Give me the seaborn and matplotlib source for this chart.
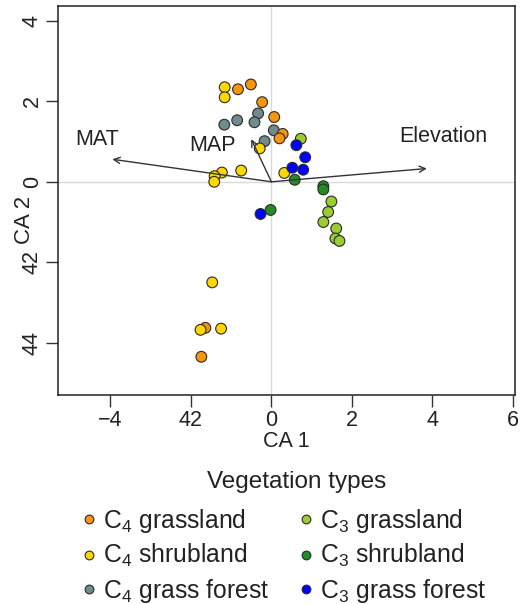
import matplotlib
matplotlib.use("Agg")
import matplotlib.pyplot as plt
import seaborn as sns
import pandas as pd
from matplotlib.lines import Line2D

# ---------------- data ----------------
c4_grassland_x = [-0.83, -0.51, -0.23, 0.07, 0.28, 0.20, -1.64, -1.74]
c4_grassland_y = [2.30, 2.42, 1.98, 1.61, 1.19, 1.08, -3.63, -4.35]

c4_shrubland_x = [-1.16, -1.16, -0.29, 0.32, -1.23, -1.41, -1.42, -0.75, -1.47, -1.76, -1.25]
c4_shrubland_y = [2.35, 2.10, 0.83, 0.22, 0.23, 0.14, 0.00, 0.28, -2.50, -3.68, -3.65]

c4_forest_x = [-0.33, -0.42, -0.85, -1.17, 0.06, -0.17]
c4_forest_y = [1.70, 1.48, 1.53, 1.42, 1.28, 1.01]

c3_grassland_x = [0.73, 1.49, 1.41, 1.29, 1.61, 1.59, 1.69]
c3_grassland_y = [1.07, -0.49, -0.75, -1.00, -1.16, -1.41, -1.47]

c3_shrubland_x = [0.58, 1.29, 1.29, -0.02]
c3_shrubland_y = [0.05, -0.11, -0.19, -0.70]

c3_forest_x = [0.62, 0.84, 0.52, 0.79, -0.27]
c3_forest_y = [0.91, 0.61, 0.35, 0.30, -0.80]

groups = ["C4 grassland", "C4 shrubland", "C4 grass forest",
          "C3 grassland", "C3 shrubland", "C3 grass forest"]
legend_labels = ["C$_4$ grassland", "C$_4$ shrubland", "C$_4$ grass forest",
                 "C$_3$ grassland", "C$_3$ shrubland", "C$_3$ grass forest"]
colors = ["#F7950F", "#FFD700", "#708A8E", "#9ACD32", "#228B22", "#0000FF"]
draw_order = ["C4 grass forest", "C4 grassland", "C4 shrubland",
              "C3 grassland", "C3 shrubland", "C3 grass forest"]

env_names = ["MAT", "MAP", "Elevation"]
env_x = [-3.95, -0.50, 3.86]
env_y = [0.56, 1.06, 0.33]
env_label_x = [-4.32, -1.47, 4.26]
env_label_y = [1.06, 0.89, 1.12]

xticks = [-4, -2, 0, 2, 4, 6]
xticklabels = ["\u22124", "42", "0", "2", "4", "6"]
yticks = [4, 2, 0, -2, -4]
yticklabels = ["4", "2", "0", "42", "44"]

# ---------------- frame ----------------
xs = {"C4 grassland": c4_grassland_x, "C4 shrubland": c4_shrubland_x,
      "C4 grass forest": c4_forest_x, "C3 grassland": c3_grassland_x,
      "C3 shrubland": c3_shrubland_x, "C3 grass forest": c3_forest_x}
ys = {"C4 grassland": c4_grassland_y, "C4 shrubland": c4_shrubland_y,
      "C4 grass forest": c4_forest_y, "C3 grassland": c3_grassland_y,
      "C3 shrubland": c3_shrubland_y, "C3 grass forest": c3_forest_y}
rows = []
for g in draw_order:
    for x, y in zip(xs[g], ys[g]):
        rows.append({"CA1": x, "CA2": y, "type": g})
df = pd.DataFrame(rows)
palette = dict(zip(groups, colors))

# ---------------- style ----------------
sns.set_style("ticks")
plt.rcParams["font.family"] = ["Liberation Sans", "DejaVu Sans"]
plt.rcParams["mathtext.fontset"] = "custom"
plt.rcParams["mathtext.rm"] = "Liberation Sans"
plt.rcParams["mathtext.it"] = "Liberation Sans:italic"
plt.rcParams["mathtext.bf"] = "Liberation Sans:bold"
plt.rcParams["mathtext.default"] = "regular"

fig = plt.figure(figsize=(5.31, 6.04), dpi=100)
ax = fig.add_axes([58 / 531, 1 - 395 / 604, (515 - 58) / 531, (395 - 6) / 604])

ax.axhline(0, color="#D9D9D9", lw=1.0, zorder=0)
ax.axvline(0, color="#D9D9D9", lw=1.0, zorder=0)

sns.scatterplot(data=df, x="CA1", y="CA2", hue="type", palette=palette,
                s=60, edgecolor="#2b2b2b", linewidth=0.8, legend=False,
                ax=ax, zorder=3)

for name, x, y, lx, ly in zip(env_names, env_x, env_y, env_label_x, env_label_y):
    ax.annotate("", xy=(x, y), xytext=(0, 0),
                arrowprops=dict(arrowstyle="->", color="#333333", lw=1.0,
                                shrinkA=0, shrinkB=0, mutation_scale=11),
                zorder=4)
    ax.text(lx, ly, name, ha="center", va="center", fontsize=15.5,
            color="#222222", zorder=5)

ax.set_xlim(-5.3, 6.05)
ax.set_ylim(-5.3, 4.37)
ax.set_xticks(xticks)
ax.set_xticklabels(xticklabels)
ax.set_yticks(yticks)
ax.set_yticklabels(yticklabels, rotation=90, va="center")
ax.tick_params(axis="both", labelsize=15.5, length=8.5, width=1.0, color="#333333",
               direction="out", pad=2.5, labelcolor="#222222")

for sp in ax.spines.values():
    sp.set_color("#222222")
    sp.set_linewidth(1.1)

ax.set_xlabel("CA 1", fontsize=15.5, color="#222222", va="center")
ax.xaxis.set_label_coords(0.5, -(441.7 - 395) / 389)
ax.set_ylabel("CA 2", fontsize=16, color="#222222", va="center")
ax.yaxis.set_label_coords((24 - 58) / 457, (395 - 220) / 389)

fig.text(297 / 531, 1 - 482 / 604, "Vegetation types", ha="center",
         va="center", fontsize=17.5, color="#222222")

handles = [Line2D([0], [0], marker="o", linestyle="", markersize=6.3,
                  markerfacecolor=c, markeredgecolor="#2b2b2b",
                  markeredgewidth=0.8) for c in colors]
fig.legend(handles, legend_labels, loc="upper left",
           bbox_to_anchor=(81.7 / 531, 1 - 507 / 604), ncol=2, frameon=False,
           fontsize=17.8, handlelength=0.6, handletextpad=0.25,
           columnspacing=1.2, labelspacing=0.29, borderpad=0,
           borderaxespad=0, labelcolor="#222222")

fig.savefig("out.png", dpi=100)
